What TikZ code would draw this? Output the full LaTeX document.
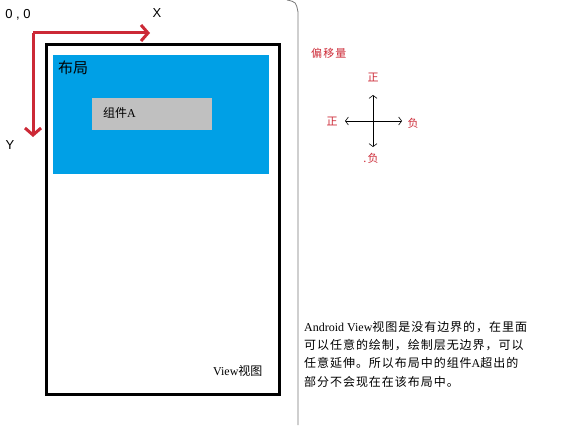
\documentclass[tikz,border=0pt]{standalone}
\usepackage{fontspec}
\setmainfont{Liberation Serif}
\setsansfont{Liberation Sans}
\newfontfamily\cjk{Noto Sans CJK SC}
\newfontfamily\cjkwide[LetterSpace=8]{Noto Sans CJK SC}
\newfontfamily\cjktag[LetterSpace=10]{Noto Sans CJK SC}
\usetikzlibrary{arrows.meta}
\definecolor{axred}{RGB}{204,41,54}
\definecolor{lblue}{RGB}{0,160,230}
\definecolor{cgray}{RGB}{192,192,192}
\definecolor{lgray}{RGB}{120,120,120}

\begin{document}
\begin{tikzpicture}[x=1pt,y=-1pt,
    axis/.style={draw=axred, line width=3pt, -{Straight Barb[length=7pt,width=16pt]}},
    shiftarrow/.style={draw, semithick, -{Straight Barb[length=3pt,width=8pt]}},
    tag/.style={text=axred, inner sep=0, font=\cjktag\fontsize{11}{13}\selectfont},
    box/.style={inner sep=0, anchor=north west}]
%      \draw [help lines] (0,0) grid[step=50] (572,425);
      \useasboundingbox (0,0) rectangle (572,425);

      % axes
      \coordinate (o) at (33,33);
      \coordinate (xend) at (150,33);
      \coordinate (yend) at (33,137);
      \draw [axis] (o) -- (xend);
      \draw [axis] (o) -- (yend);
      \node [font=\sffamily\fontsize{13}{15}\selectfont, inner sep=0] (origin) at (18,15) {0 , 0};
      \node [font=\sffamily\fontsize{13}{15}\selectfont, inner sep=0] (xlabel) at (157,13) {X};
      \node [font=\sffamily\fontsize{13}{15}\selectfont, inner sep=0] (ylabel) at (10,145) {Y};

      % view, layout, component
      \node [box, draw, line width=3pt, minimum width=233pt, minimum height=350pt] (view) at (45,43) {};
      \node [box, fill=lblue, minimum width=216pt, minimum height=119pt] (layout) at (53,55) {};
      \node [box, font=\cjk\fontsize{15}{18}\selectfont] (layoutlabel) at (58,61) {布局};
      \node [box, fill=cgray, minimum width=120pt, minimum height=32pt] (compA) at (92,98) {};
      \node [anchor=west, inner sep=0, font=\cjk\fontsize{12}{14}\selectfont] (compAlabel) at (103,113) {组件{\rmfamily A}};
      \node [anchor=west, inner sep=0, font=\cjk\fontsize{12}{14}\selectfont] (viewlabel) at (213,371) {{\rmfamily View}视图};

      % separator
      \draw [lgray, thick] (287,0) .. controls (296,2) .. (298,12) -- (298,425);

      % offset cross
      \node [tag, anchor=west] (offset) at (311,53) {偏移量};
      \coordinate (c) at (373,121);
      \coordinate (up) at (373,95);
      \coordinate (down) at (373,147);
      \coordinate (left) at (345,121);
      \coordinate (right) at (402,121);
      \draw [shiftarrow] (c) -- (up);
      \draw [shiftarrow] (c) -- (down);
      \draw [shiftarrow] (c) -- (left);
      \draw [shiftarrow] (c) -- (right);
      \node [tag] (uptag) at (373,77) {正};
      \node [tag] (lefttag) at (332,121) {正};
      \node [tag] (righttag) at (413,123) {负};
      \node [tag] (downtag) at (371,158) {.负};

      % note
      \node [box, align=left, font=\cjkwide\fontsize{12}{18.3}\selectfont] (note) at (304,321) {
        {\rmfamily Android View}视图是没有边界的，在里面\\
        可以任意的绘制，绘制层无边界，可以\\
        任意延伸。所以布局中的组件{\rmfamily A}超出的\\
        部分不会现在在该布局中。};

    \end{tikzpicture}
\end{document}
